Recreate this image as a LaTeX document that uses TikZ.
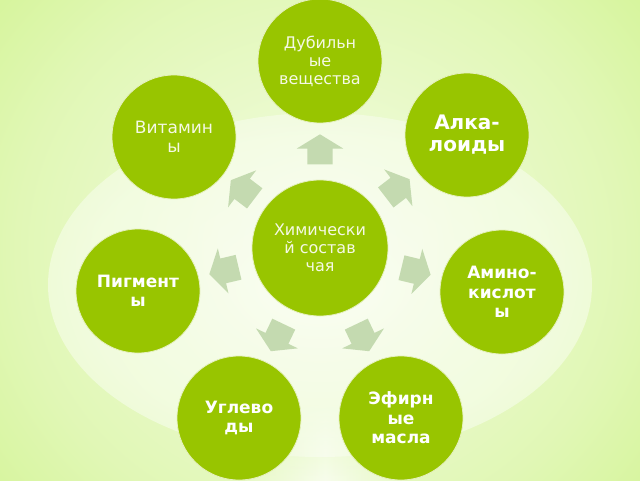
\documentclass[tikz,border=0pt]{standalone}
\usepackage{fontspec}
\setmainfont{DejaVu Sans}
\usepackage{xcolor}
\usetikzlibrary{shapes.arrows,fadings}
\definecolor{leaf}{RGB}{152,197,0}
\definecolor{lime}{RGB}{200,241,122}
\definecolor{sage}{RGB}{196,218,176}
\pgfdeclareradialshading{glow}{\pgfpoint{0bp}{0bp}}{color(0bp)=(white!80!lime); color(20bp)=(white!45!lime); color(38bp)=(lime); color(50bp)=(lime)}
\pgfdeclareradialshading{haze}{\pgfpoint{0bp}{0bp}}{color(0bp)=(white); color(22bp)=(white!90!lime); color(50bp)=(white!50!lime)}

\begin{document}
\begin{tikzpicture}[x=1pt,y=-1pt,every text node part/.style={align=center}]
\tikzset{
  blob/.style={circle,fill=leaf,draw=white!75!leaf,line width=0.8pt,minimum size=124pt,inner sep=0pt},
  thin label/.style={text=white!90!leaf,font=\fontsize{16}{18}\selectfont},
  fat label/.style={text=white,font=\bfseries\fontsize{17}{19.5}\selectfont},
  pointer/.style={single arrow,fill=sage,inner xsep=0pt,inner ysep=12.5pt,minimum height=30pt,
    single arrow head extend=10.5pt,single arrow tip angle=117,sloped,allow upside down,pos=0.47}
}
\useasboundingbox (0,0) rectangle (640,480);
\clip (0,0) rectangle (640,480);
% background
\fill[lime] (0,0) rectangle (640,480);
\shade[shading=glow] (-60,-110) rectangle (700,610);
\shade[shading=haze,opacity=0.6] (320,285) ellipse [x radius=272,y radius=172];
\shade[left color=white!60!lime,right color=white!60!lime,middle color=white,path fading=north,opacity=0.7] (245,400) rectangle (405,480);

% circles
\node[blob,minimum size=136pt,thin label] (chem) at (320,248) {Химически\\й состав\\чая};
\node[blob,thin label] (tannin) at (320,61) {Дубильн\\ые\\вещества};
\node[blob,thin label,font=\fontsize{17}{19}\selectfont] (vitamin) at (174,137) {Витамин\\ы};
\node[blob,fat label,font=\bfseries\fontsize{20}{22}\selectfont] (alkaloid) at (467,135) {Алка-\\лоиды};
\node[blob,fat label] (pigment) at (138,291) {Пигмент\\ы};
\node[blob,fat label] (amino) at (502,292) {Амино-\\кислот\\ы};
\node[blob,fat label] (sugar) at (239,418) {Углево\\ды};
\node[blob,fat label] (oil) at (401,418) {Эфирн\\ые\\масла};

% arrows
\path (chem) -- node[pointer] (p1) {} (tannin);
\path (chem) -- node[pointer] (p2) {} (alkaloid);
\path (chem) -- node[pointer] (p3) {} (amino);
\path (chem) -- node[pointer] (p4) {} (oil);
\path (chem) -- node[pointer] (p5) {} (sugar);
\path (chem) -- node[pointer] (p6) {} (pigment);
\path (chem) -- node[pointer] (p7) {} (vitamin);
\end{tikzpicture}
\end{document}
